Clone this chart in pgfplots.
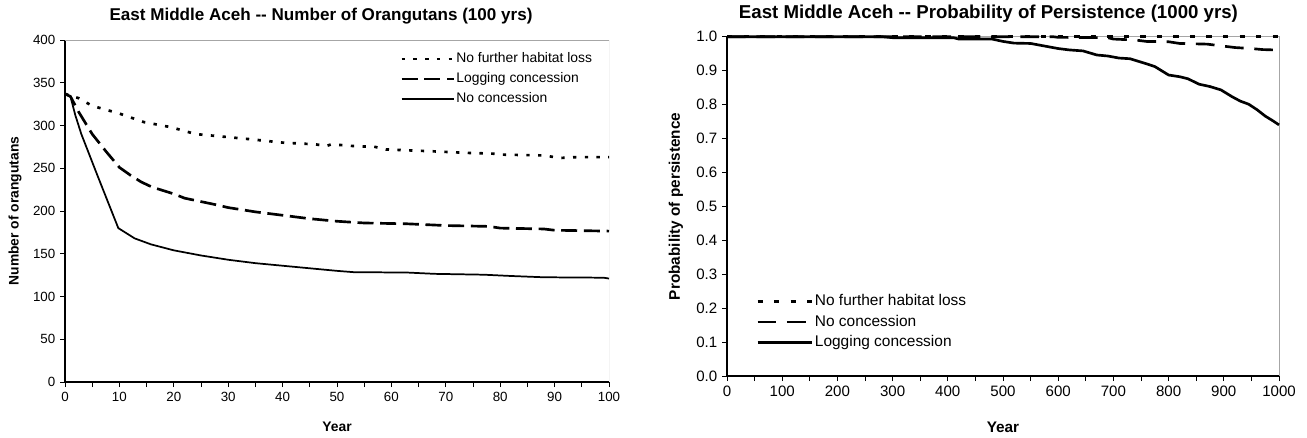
\documentclass[border=0pt]{standalone}
\usepackage{fontspec}
\setmainfont{Liberation Sans}
\usepackage{pgfplots}
\pgfplotsset{compat=1.18}
\pgfplotsset{
 common/.style={
  scale only axis,
  axis x line*=bottom,
  axis y line*=left,
  axis line style={black, line width=0.8pt, -},
  tick align=outside,
  major tick length=3.75pt,
  minor tick length=3.75pt,
  every tick/.style={black, line width=0.6pt},
  minor tick style={black, line width=0.6pt},
  /pgf/number format/assume math mode=true,
  /pgf/number format/1000 sep={},
  legend cell align=left,
  legend style={draw=none, fill=none, inner sep=0pt,
    nodes={inner xsep=1pt, inner ysep=0pt, text height=7.5pt, text depth=2.5pt},
    row sep=5pt, anchor=north west},
 }
}
\begin{document}
\begin{tikzpicture}
\useasboundingbox (0,0) rectangle (980.25pt,-327.75pt);
% ---------------- left chart ----------------
\begin{axis}[common,
  at={(48.75pt,-286.5pt)}, anchor=south west,
  width=408pt, height=256.5pt,
  xmin=0, xmax=100, ymin=0, ymax=400,
  xtick={0,10,...,100}, minor xtick={5,15,...,95},
  ytick={0,50,...,400},
  tick label style={font=\fontsize{10}{12}\selectfont},
  label style={font=\bfseries\fontsize{10.4}{12}\selectfont},
  xlabel={Year}, ylabel={Number of orangutans},
  xlabel style={at={(axis description cs:0.5,-0.1316)}, anchor=center},
  ylabel style={at={(axis description cs:-0.0919,0.5)}, anchor=center},
  title={East Middle Aceh -{}- Number of Orangutans (100 yrs)},
  every axis title/.style={at={(axis description cs:0.4706,1.0687)}, anchor=center,
     font=\bfseries\fontsize{12.8}{15}\selectfont},
  legend image code/.code={\draw[#1] (0pt,0pt) -- (39pt,0pt);},
  legend style={at={(axis description cs:0.616,0.9649)}, font=\fontsize{10.4}{12}\selectfont},
]
\draw[gray!70, line width=0.75pt] (rel axis cs:0,1) -- (rel axis cs:1,1) -- (rel axis cs:1,0);
\addplot[black, line width=2pt, dash pattern=on 2.5pt off 6.3pt] coordinates {
(0,337)(2.5,332)(5,323)(10,314)(14.5,304)(19.5,298)(24,290)(29,287)(34,284)(40,280)(46,278)(48,276)(49,278)(53,276)(57,275)(59,272)(67,270)(74,268)(79,267)(80,266)(88,265)(91,262)(94,263)(100,263)};
\addlegendentry{No further habitat loss}
\addplot[black, line width=2pt, dash pattern=on 12pt off 5pt] coordinates {
(0,337)(1,334)(2.5,316)(5,290)(7.5,270)(10,251)(12,242)(14,234)(16,228)(20,220)(22,215)(25,211)(28,207)(30,204)(35,199)(40,195)(45,191)(50,188)(55,186)(63,185)(70,183)(78,182)(80,180)(88,179)(90,177.5)(100,176.5)};
\addlegendentry{Logging concession}
\addplot[black, line width=1.3pt] coordinates {
(0,337)(1,334)(1.9,312)(3,290)(6,241)(9.8,180)(12.8,168)(15.8,161)(20,154)(25,148)(30,143)(35,139)(40,136)(45,133)(50,130)(53,128.5)(63,128)(68,126.5)(77,125.5)(82,124)(88,122.5)(99,122)(100,121)};
\addlegendentry{No concession}
\end{axis}
% ---------------- right chart ----------------
\begin{axis}[common,
  at={(545.25pt,-282pt)}, anchor=south west,
  width=414pt, height=254.5pt,
  xmin=0, xmax=1000, ymin=0, ymax=1,
  clip=false,
  xtick={0,100,...,1000}, minor xtick={50,150,...,950},
  ytick={0,0.1,...,1.0},
  tick label style={font=\fontsize{11.3}{13}\selectfont},
  label style={font=\bfseries\fontsize{11.5}{13}\selectfont},
  yticklabel style={/pgf/number format/fixed, /pgf/number format/fixed zerofill, /pgf/number format/precision=1},
  xlabel={Year}, ylabel={Probability of persistence},
  xlabel style={at={(axis description cs:0.5,-0.1503)}, anchor=center},
  ylabel style={at={(axis description cs:-0.0924,0.5)}, anchor=center},
  title={East Middle Aceh -{}- Probability of Persistence (1000 yrs)},
  every axis title/.style={at={(axis description cs:0.4737,1.0684)}, anchor=center,
     font=\bfseries\fontsize{14}{16}\selectfont},
  legend image code/.code={\draw[#1] (0pt,0pt) -- (41pt,0pt);},
  legend style={at={(axis description cs:0.0525,0.2417)}, font=\fontsize{11.6}{13}\selectfont,
    nodes={text height=8.5pt, text depth=2.5pt}, row sep=4.4pt},
]
\draw[gray!70, line width=0.75pt] (rel axis cs:0,1) -- (rel axis cs:1,1) -- (rel axis cs:1,0);
\addplot[black, line width=2pt, dash pattern=on 4pt off 8.4pt] coordinates {
(0,1)(1000,1)};
\addlegendentry{No further habitat loss}
\addplot[black, line width=2pt, dash pattern=on 14pt off 8pt] coordinates {
(0,1)(590,1)(600,0.998)(690,0.997)(700,0.993)(740,0.99)(760,0.986)(800,0.985)(820,0.98)(870,0.978)(890,0.974)(920,0.968)(950,0.965)(970,0.962)(990,0.961)(1000,0.957)};
\addlegendentry{No concession}
\addplot[black, line width=2pt] coordinates {
(0,1)(280,1)(300,0.997)(410,0.997)(420,0.993)(480,0.993)(500,0.986)(520,0.981)(550,0.980)(570,0.974)(600,0.965)(620,0.961)(645,0.958)(670,0.946)(690,0.943)(710,0.937)(730,0.935)(760,0.92)(775,0.912)(800,0.887)(820,0.882)(835,0.876)(855,0.86)(875,0.853)(895,0.843)(915,0.823)(930,0.81)(945,0.801)(960,0.785)(975,0.766)(988,0.753)(1000,0.74)};
\addlegendentry{Logging concession}
\end{axis}
\end{tikzpicture}
\end{document}
